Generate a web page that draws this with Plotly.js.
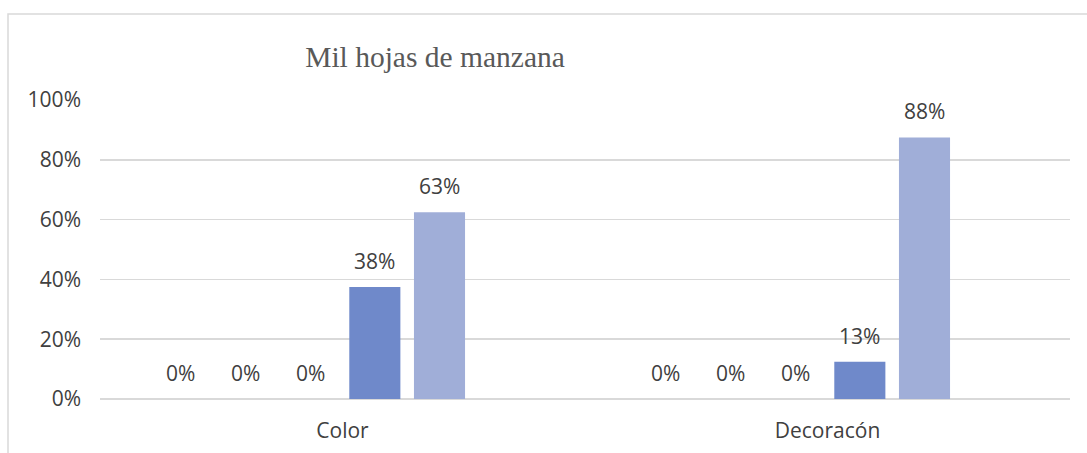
<!DOCTYPE html>
<html>
<head>
<meta charset="utf-8">
<script src="https://cdn.plot.ly/plotly-3.0.1.min.js"></script>
<style>html,body{margin:0;padding:0;background:#fff;}#chart{width:1087px;height:453px;}</style>
</head>
<body>
<div id="chart"></div>
<script>
const categories = ["Color", "Decoracón"];
const seriesNames = ["Serie 1", "Serie 2", "Serie 3", "Serie 4", "Serie 5", "Serie 6"];
const serie1 = [0, 0];
const serie2 = [0, 0];
const serie3 = [0, 0];
const serie4 = [0.375, 0.125];
const serie5 = [0.625, 0.875];
const serie6 = [null, null];
const yTickVals = [0, 0.2, 0.4, 0.6, 0.8, 1.0];
const yTickText = ["0%", "20%", "40%", "60%", "80%", "100%"];
const colors = ["#2F4E8F", "#3E63AF", "#5575BE", "#6F89CA", "#A0AED8", "#C5CDE6"];

const allSeries = [serie1, serie2, serie3, serie4, serie5, serie6];
const nSeries = allSeries.length;
const bargap = 0.2, bargroupgap = 0.21;
const slot = (1 - bargap) / nSeries;

const labelFont = {family: "Open Sans, sans-serif", size: 21, color: "#404040"};

const traces = allSeries.map((vals, k) => ({
  type: "bar",
  name: seriesNames[k],
  x: categories,
  y: vals,
  marker: {color: colors[k]},
  hoverinfo: "skip"
}));

const annotations = [];
allSeries.forEach((vals, k) => {
  vals.forEach((v, i) => {
    if (v === null) return;
    annotations.push({
      xref: "x", yref: "y",
      x: i - (1 - bargap) / 2 + slot * (k + 0.5),
      y: v,
      text: Math.round(v * 100) + "%",
      showarrow: false,
      yanchor: "middle",
      yshift: 26,
      font: labelFont
    });
  });
});

const layout = {
  width: 1087, height: 453,
  margin: {l: 100, r: 17, t: 100, b: 54},
  paper_bgcolor: "#ffffff",
  plot_bgcolor: "#ffffff",
  barmode: "group",
  bargap: bargap,
  bargroupgap: bargroupgap,
  showlegend: false,
  title: {
    text: "Mil hojas de manzana",
    font: {family: "Liberation Serif, Times New Roman, serif", size: 29.5, color: "#595959"},
    x: 435 / 1087, xref: "container", xanchor: "center",
    y: 1 - 57 / 453, yref: "container", yanchor: "middle"
  },
  xaxis: {
    type: "category",
    showgrid: false,
    showline: false,
    ticks: "",
    tickfont: labelFont,
    ticklabelstandoff: 17,
    fixedrange: true
  },
  yaxis: {
    range: [0, 1.0],
    tickvals: yTickVals,
    ticktext: yTickText,
    showgrid: true,
    gridcolor: "#d9d9d9",
    gridwidth: 1.5,
    zeroline: true,
    zerolinecolor: "#d9d9d9",
    zerolinewidth: 1.5,
    showline: false,
    ticks: "",
    tickfont: labelFont,
    ticklabelstandoff: 18,
    fixedrange: true
  },
  shapes: [{
    type: "rect", xref: "paper", yref: "paper",
    x0: (8 - 100) / 970, x1: 1.2,
    y0: -0.5, y1: (399 - 14) / 299,
    line: {color: "#d9d9d9", width: 1.5},
    fillcolor: "rgba(0,0,0,0)",
    layer: "below"
  }],
  annotations: annotations
};

Plotly.newPlot("chart", traces, layout, {displayModeBar: false, staticPlot: true});
</script>
</body>
</html>
